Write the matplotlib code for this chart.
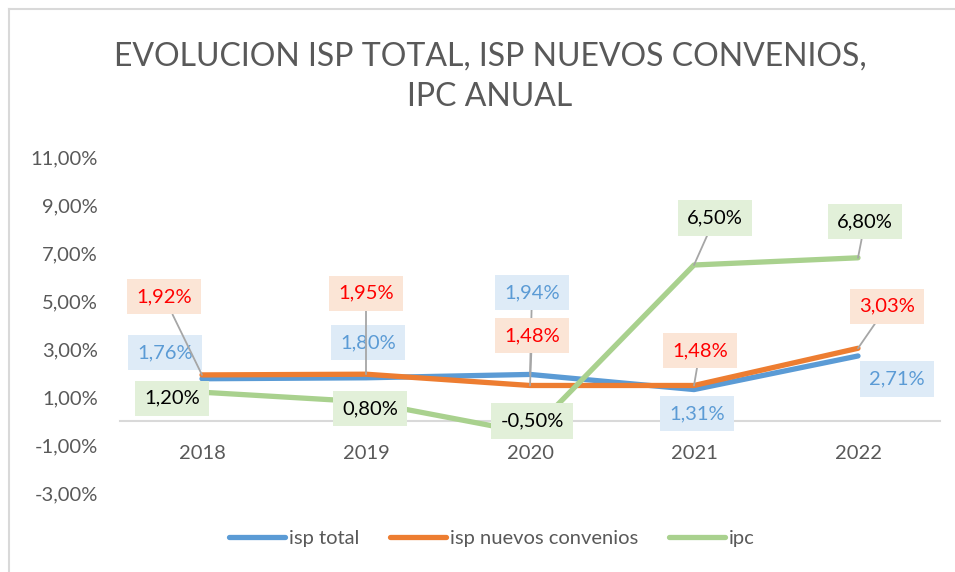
import matplotlib
matplotlib.use("Agg")
import matplotlib.pyplot as plt
from matplotlib.lines import Line2D

# ---------------- data ----------------
years = ["2018", "2019", "2020", "2021", "2022"]
isp_total = [1.76, 1.80, 1.94, 1.31, 2.71]
isp_nuevos = [1.92, 1.95, 1.48, 1.48, 3.03]
ipc = [1.20, 0.80, -0.50, 6.50, 6.80]
series_names = ["isp total", "isp nuevos convenios", "ipc"]
y_ticks = [-3, -1, 1, 3, 5, 7, 9, 11]
title = "EVOLUCION ISP TOTAL, ISP NUEVOS CONVENIOS,\nIPC ANUAL"

# ---------------- styling / layout ----------------
FONT = "Lato"
plt.rcParams["font.family"] = [FONT, "DejaVu Sans"]

line_colors = ["#5B9BD5", "#ED7D31", "#A9D18E"]
label_colors = ["#5B9BD5", "#FF0000", "#000000"]
box_colors = ["#DEEBF7", "#FBE5D6", "#E2F0D9"]
TXT = "#595959"
FS = 14.5

# label offsets in pixels (dx, dy) and whether a leader line is drawn
offsets = [
    [(-37, 26, False), (2, 35, False), (2, 82, True), (3, -24, False), (39, -23, False)],
    [(-38, 78, True), (0, 81, True), (2, 50, True), (6, 35, True), (29, 42, True)],
    [(-30, -6, False), (4, -7, False), (2, 12, False), (21, 47, True), (7, 36, True)],
]

W, H = 955, 572
fig = plt.figure(figsize=(W / 100, H / 100), dpi=100)
ax = fig.add_axes([120 / W, 1 - 493 / H, (940 - 120) / W, (493 - 157) / H])

x = list(range(len(years)))
all_series = [isp_total, isp_nuevos, ipc]
for s, name, c in zip(all_series, series_names, line_colors):
    ax.plot(x, s, color=c, lw=3.8, solid_capstyle="round", solid_joinstyle="round",
            label=name, zorder=3)

for si, s in enumerate(all_series):
    for i, v in enumerate(s):
        dx, dy, leader = offsets[si][i]
        txt = f"{v:.2f}".replace(".", ",") + "%"
        kw = {}
        if leader:
            kw["arrowprops"] = dict(arrowstyle="-", color="#A6A6A6", lw=1.3,
                                    shrinkA=0, shrinkB=0)
        ax.annotate(txt, xy=(i, v), xytext=(dx, dy), textcoords="offset pixels",
                    ha="center", va="center", fontsize=FS, color=label_colors[si],
                    bbox=dict(boxstyle="square,pad=0.45", fc=box_colors[si], ec="none"),
                    zorder=5, **kw)

ax.set_xlim(-0.5, len(years) - 0.5)
ax.set_ylim(-3, 11)
ax.set_yticks(y_ticks)
ax.set_yticklabels([f"{t:.2f}".replace(".", ",") + "%" for t in y_ticks])
ax.set_xticks(x)
ax.set_xticklabels(years)
for sp in ["top", "right", "left"]:
    ax.spines[sp].set_visible(False)
ax.spines["bottom"].set_position(("data", 0))
ax.spines["bottom"].set_color("#D9D9D9")
ax.spines["bottom"].set_linewidth(1.5)
ax.tick_params(axis="both", length=0, colors=TXT, labelsize=FS)
ax.tick_params(axis="x", pad=17)
ax.tick_params(axis="y", pad=16)
ax.patch.set_alpha(0)

fig.text(490 / W, 1 - 77 / H, title, ha="center", va="center", fontsize=23,
         color=TXT, linespacing=1.42)

fig.legend(loc="center", bbox_to_anchor=(492 / W, 1 - 538 / H), ncol=3, frameon=False,
           fontsize=FS, handlelength=2.75, handletextpad=0.2, columnspacing=1.55,
           labelcolor=TXT)

# chart-area border (top and left visible)
fig.add_artist(Line2D([9 / W, 1], [1 - 9 / H, 1 - 9 / H], color="#D9D9D9", lw=1.5,
                      transform=fig.transFigure))
fig.add_artist(Line2D([9 / W, 9 / W], [0, 1 - 9 / H], color="#D9D9D9", lw=1.5,
                      transform=fig.transFigure))

fig.savefig("out.png", dpi=100)
